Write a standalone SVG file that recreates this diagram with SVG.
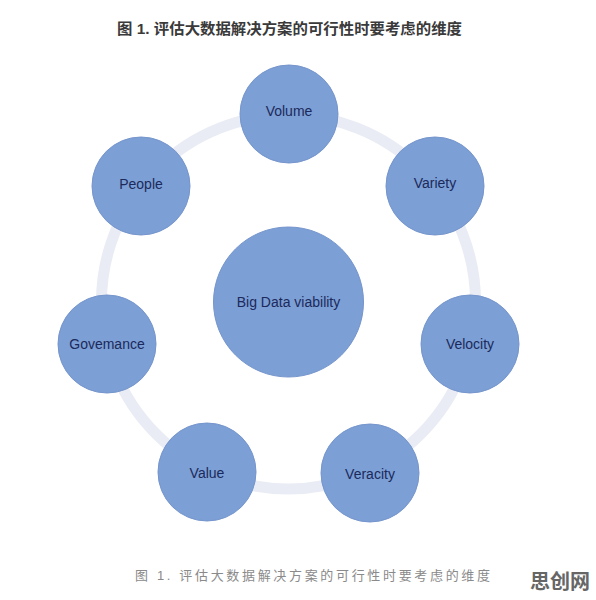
<svg xmlns="http://www.w3.org/2000/svg" width="596" height="600" viewBox="0 0 596 600">
<style>
.node circle{fill:#7c9fd6;stroke:#7595cc;stroke-width:1}
.node text{font-family:"Liberation Sans",Arial,sans-serif;font-size:14px;fill:#1b2a5a;text-anchor:middle}
.ring{fill:none;stroke:#e9ecf4;stroke-width:11}
</style>
<rect width="596" height="600" fill="#ffffff"/>
<text x="117" y="34" textLength="345" lengthAdjust="spacingAndGlyphs" font-family="'Liberation Sans','Noto Sans CJK SC',sans-serif" font-size="15" font-weight="bold" fill="#3a3a3a">图 1. 评估大数据解决方案的可行性时要考虑的维度</text>
<g id="connectors">
<circle class="ring" cx="288.5" cy="302" r="187"/>
</g>
<g id="center" class="node"><circle cx="288.5" cy="302" r="75"/><text x="288.5" y="307">Big Data viability</text></g>
<g id="volume" class="node"><circle cx="289" cy="114" r="49"/><text x="289" y="116">Volume</text></g>
<g id="variety" class="node"><circle cx="435" cy="186" r="49"/><text x="435" y="188">Variety</text></g>
<g id="velocity" class="node"><circle cx="470" cy="344" r="49"/><text x="470" y="349">Velocity</text></g>
<g id="veracity" class="node"><circle cx="370" cy="473" r="49"/><text x="370" y="479">Veracity</text></g>
<g id="value" class="node"><circle cx="207" cy="472" r="49"/><text x="207" y="478">Value</text></g>
<g id="governance" class="node"><circle cx="107" cy="344" r="49"/><text x="107" y="349">Govemance</text></g>
<g id="people" class="node"><circle cx="141" cy="186" r="49"/><text x="141" y="189">People</text></g>
<text x="135" y="580" textLength="355" lengthAdjust="spacing" font-family="'Liberation Sans','Noto Sans CJK SC',sans-serif" font-size="13" fill="#8a8a8a">图 1. 评估大数据解决方案的可行性时要考虑的维度</text>
<text x="530" y="589" textLength="60" font-family="'Liberation Sans','Noto Sans CJK SC',sans-serif" font-size="20" font-weight="bold" fill="#666666">思创网</text>
</svg>
